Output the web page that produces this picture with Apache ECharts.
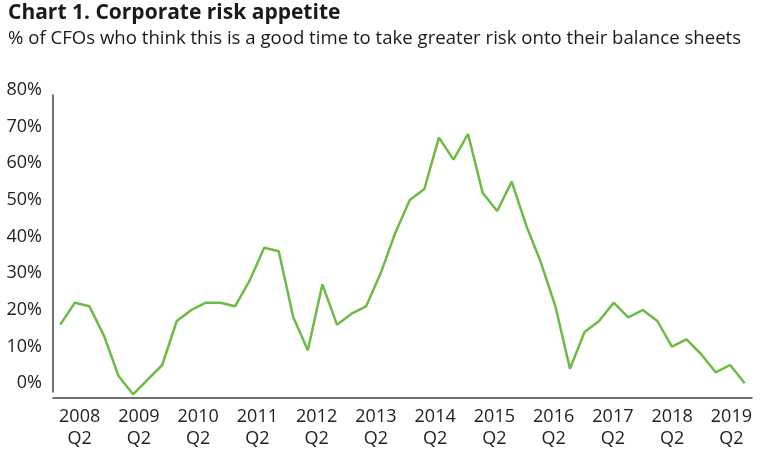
<!DOCTYPE html>
<html>
<head>
<meta charset="utf-8">
<script src="https://cdn.jsdelivr.net/npm/echarts@6/dist/echarts.min.js"></script>
<style>
html,body{margin:0;padding:0;background:#fff;}
#chart{width:762px;height:462px;}
</style>
</head>
<body>
<div id="chart"></div>
<script>
var titleText = 'Chart 1. Corporate risk appetite';
var subtitleText = '% of CFOs who think this is a good time to take greater risk onto their balance sheets';

var quarters = [];
for (var yr = 2008; yr <= 2019; yr++) {
  for (var q = 1; q <= 4; q++) quarters.push(yr + ' Q' + q);
}
var riskAppetite = [16, 22, 21, 13, 2, -3, 1, 5, 17, 20, 22, 22,
  21, 28, 37, 36, 18, 9, 27, 16, 19, 21, 30, 41,
  50, 53, 67, 61, 68, 52, 47, 55, 43, 33, 21, 4,
  14, 17, 22, 18, 20, 17, 10, 12, 8, 3, 5, 0];
var tickLabels = ['2008\nQ2', '2009\nQ2', '2010\nQ2', '2011\nQ2', '2012\nQ2', '2013\nQ2',
  '2014\nQ2', '2015\nQ2', '2016\nQ2', '2017\nQ2', '2018\nQ2', '2019\nQ2'];

var chart = echarts.init(document.getElementById('chart'), null, {renderer: 'canvas'});
var font = '"Open Sans", sans-serif';
chart.setOption({
  animation: false,
  title: [
    {text: titleText, left: 3, top: -2,
     textStyle: {fontFamily: font, fontWeight: 'bold', fontSize: 21, color: '#1a1a1a'}},
    {text: subtitleText, left: 3, top: 24,
     textStyle: {fontFamily: font, fontWeight: 'normal', fontSize: 18.6, color: '#1a1a1a'}}
  ],
  grid: [
    {left: 53, top: 90, width: 699, height: 308},
    {left: 50, top: 90, width: 711, height: 308},
    {left: 53, top: 95, width: 699, height: 297}
  ],
  xAxis: [
    {type: 'category', gridIndex: 0, data: quarters, boundaryGap: true,
     axisLine: {show: true, onZero: false, lineStyle: {color: '#444', width: 1.5}},
     axisTick: {show: false}, axisLabel: {show: false}, splitLine: {show: false}},
    {type: 'category', gridIndex: 1, data: tickLabels, boundaryGap: true,
     axisLine: {show: false}, axisTick: {show: false}, splitLine: {show: false},
     axisLabel: {show: true, interval: 0, margin: 8, fontFamily: font, fontSize: 18,
       lineHeight: 22, color: '#222'}},
    {type: 'category', gridIndex: 2, data: tickLabels, show: false}
  ],
  yAxis: [
    {type: 'value', gridIndex: 0, min: -4, max: 80, interval: 2,
     axisLine: {show: false}, axisTick: {show: false}, splitLine: {show: false},
     axisLabel: {show: true, margin: 11, fontFamily: font, fontSize: 18, color: '#222',
       formatter: function (v) { return (v % 10 === 0 && v >= 0) ? v + '%' : ''; }}},
    {type: 'value', gridIndex: 1, min: -4, max: 80, show: false},
    {type: 'value', gridIndex: 2, min: 0, max: 1,
     axisLine: {show: true, lineStyle: {color: '#444', width: 1.5}},
     axisTick: {show: false}, axisLabel: {show: false}, splitLine: {show: false}}
  ],
  series: [{
    type: 'line', xAxisIndex: 0, yAxisIndex: 0, data: riskAppetite,
    symbol: 'none', lineStyle: {color: '#6dbb45', width: 2.5}
  }]
});
</script>
</body>
</html>
